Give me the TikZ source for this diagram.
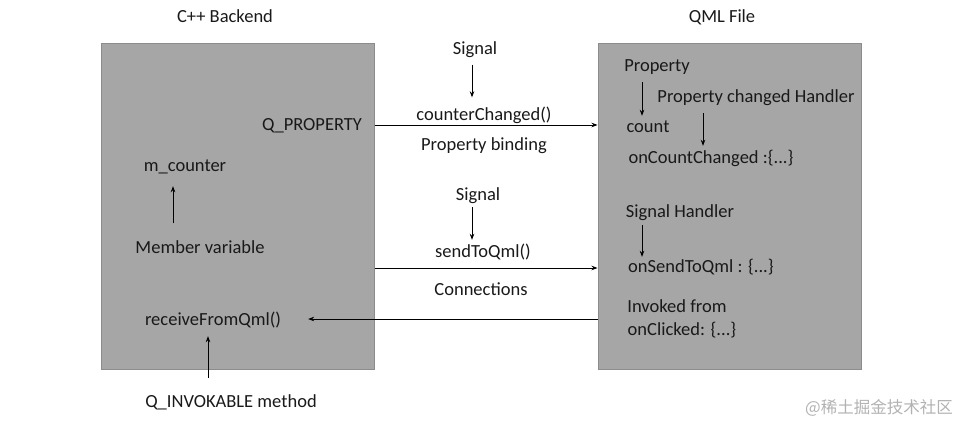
\documentclass[tikz,border=0pt]{standalone}
\usepackage{fontspec}
\setmainfont{Carlito}
\newfontfamily\cjk{Noto Sans CJK SC}
\usetikzlibrary{arrows.meta}

\tikzset{
  box/.style={draw=black!45,fill=black!35,line width=1pt},
  lbl/.style={inner sep=0pt,text height=13pt,text depth=4pt,text=black!90},
  arr/.style={-{Stealth[length=6pt,width=4.5pt]},line width=0.8pt},
}

\begin{document}
\begin{tikzpicture}[x=1pt,y=-1pt,font=\fontsize{18.5}{22}\selectfont]
\useasboundingbox (0,0) rectangle (965,422);

% the two blocks
\node[box,minimum width=273pt,minimum height=325pt] (cpp) at (237.5,206.5) {};
\node[box,minimum width=263pt,minimum height=325pt] (qml) at (729.5,206.5) {};

\node[lbl] (cpptitle) at (225,18) {C++ Backend};
\node[lbl] (qmltitle) at (722,18) {QML File};

% C++ side
\node[lbl] (qprop) at (312,126) {Q\_PROPERTY};
\node[lbl] (mcnt) at (185,167) {m\_counter};
\node[lbl] (memvar) at (200,249) {Member variable};
\node[lbl] (recv) at (213,321) {receiveFromQml()};
\node[lbl] (qinv) at (231,403) {Q\_INVOKABLE method};

% between the blocks
\node[lbl] (sig1) at (475,50) {Signal};
\node[lbl] (cc) at (484,116) {counterChanged()};
\node[lbl] (bind) at (484,146) {Property binding};
\node[lbl] (sig2) at (478,196) {Signal};
\node[lbl] (stq) at (483,253) {sendToQml()};
\node[lbl] (conn) at (481,291) {Connections};

% QML side
\node[lbl] (prop) at (657,67) {Property};
\node[lbl] (pch) at (756,98) {Property changed Handler};
\node[lbl] (count) at (648,128) {count};
\node[lbl] (occ) at (711,159) {onCountChanged :\{...\}};
\node[lbl] (sh) at (680,213) {Signal Handler};
\node[lbl] (ost) at (701,268) {onSendToQml : \{...\}};
\node[lbl] (invk) at (677,308) {Invoked from};
\node[lbl] (oncl) at (682,331) {onClicked: \{...\}};

\node[font=\cjk\fontsize{16.5}{18}\selectfont,text=black!30,inner sep=0pt] (wm) at (879,408) {@稀土掘金技术社区};

% horizontal connectors
\draw[arr] (cpp.east |- 0,125) -- (qml.west |- 0,125);
\draw[arr] (cpp.east |- 0,268) -- (qml.west |- 0,268);
\draw[arr,shorten >=27pt] (qml.west |- 0,319) -- (recv.east |- 0,319);

% vertical connectors
\draw[arr,shorten <=6pt,shorten >=10pt] ([xshift=-3pt]sig1.south) -- ([xshift=-3pt]sig1.south |- cc.north);
\draw[arr,shorten <=2.5pt,shorten >=4.5pt] ([xshift=-6pt]sig2.south) -- ([xshift=-6pt]sig2.south |- stq.north);
\draw[arr,shorten <=17pt,shorten >=10.5pt] ([xshift=-27pt]memvar.north) -- ([xshift=-12pt]mcnt.south);
\draw[arr,shorten <=16.5pt,shorten >=6.5pt] ([xshift=-23pt]qinv.north) -- ([xshift=-5pt]recv.south);
\draw[arr,shorten <=6.5pt,shorten >=3.5pt] ([xshift=-15pt]prop.south) -- ([xshift=-6pt]count.north);
\draw[arr,shorten <=6.5pt,shorten >=4.5pt] ([xshift=-53pt]pch.south) -- ([xshift=-8pt]occ.north);
\draw[arr,shorten <=3.5pt,shorten >=2.5pt] ([xshift=-38pt]sh.south) -- ([xshift=-59pt]ost.north);
\end{tikzpicture}
\end{document}
